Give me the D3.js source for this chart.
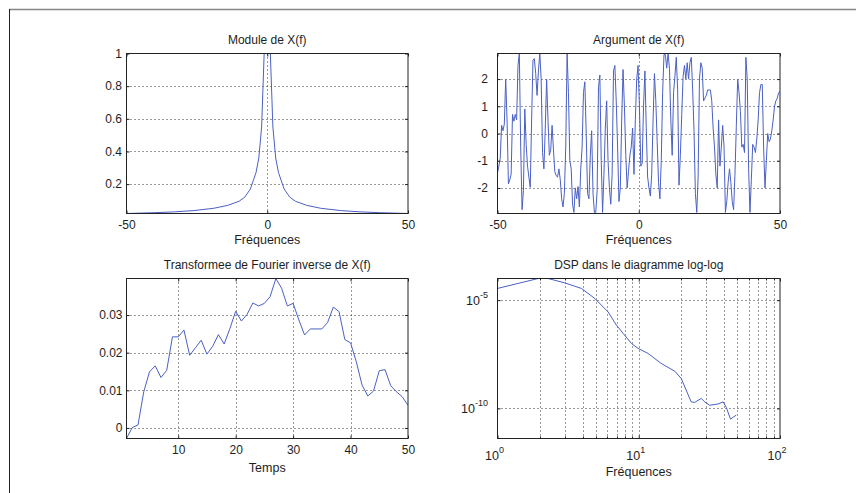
<!DOCTYPE html>
<html><head><meta charset="utf-8">
<script src="https://cdn.jsdelivr.net/npm/d3@7/dist/d3.min.js"></script>
<style>
body{margin:0;background:#fff;}
text{font-family:"Liberation Sans",Arial,sans-serif;fill:#1e1e1e;}
</style></head>
<body>
<svg id="c" width="856" height="493"></svg>
<script>
// ---------- DATA ----------
const titles = ["Module de X(f)", "Argument de X(f)", "Transformee de Fourier inverse de X(f)", "DSP dans le diagramme log-log"];
const xLabels = ["Fréquences", "Fréquences", "Temps", "Fréquences"];

// Module de X(f)
const modFreq  = [-50, -40, -33, -26, -19, -14, -10, -8, -6, -5, -4, -3, -2, -1, 0, 1, 2, 3, 4, 5, 6, 8, 10, 14, 19, 26, 33, 40, 50];
const modValue = [0.02, 0.025, 0.03, 0.038, 0.052, 0.07, 0.095, 0.12, 0.17, 0.22, 0.27, 0.36, 0.55, 1.05, 3.0, 1.05, 0.55, 0.36, 0.27, 0.22, 0.17, 0.12, 0.095, 0.07, 0.052, 0.038, 0.03, 0.025, 0.02];

// Argument de X(f) (evenly spaced over -50..50)
const argValue = [
 -1.45, -1.2, -0.9, 0.3, 0.1, 0.35, 2.0, 0.5, -1.85, -1.7, -1.5, 0.7, 0.45, 0.7, 0.5, 2.5, 2.95, -0.5, -2.8, -2.1,
 0.9, -0.4, -1.2, -1.6, -1.98, 0.5, 2.7, 2.75, 2.2, 1.4, 2.3, 2.95, 2.0, -0.7, -1.3, 0.2, 2.0, 0.5, -0.8, -0.6,
 0.3, -0.6, -1.4, -1.55, -1.6, -1.3, -1.7, -2.4, -2.7, -2.2, -0.5, 2.95, 1.5, -1.0, -1.3, -2.6, -2.9, -2.0, -2.4, -1.95,
 -2.7, -1.3, -0.5, 1.5, 1.9, 0.0, -2.2, -2.4, -0.8, 0.1, -2.2, -2.9, -2.9, -2.1, 1.7, 2.15, -1.0, -2.9, -1.5, 0.2,
 1.2, -1.0, -2.0, -2.6, -1.5, 2.3, 2.5, 1.2, -0.5, -2.5, -2.0, 0.5, 2.35, 1.0, -0.8, -2.0, -1.4, -0.8, -0.5,
 0.2, -1.5, 0.5, 2.0, 2.5, 1.0, -1.2, -1.1, 1.0, 2.3,
 0.2, -1.6, -2.0, -2.3, -1.5, 0.5, 2.2, 1.2, -0.3, -1.8,
 -2.4, -1.0, 1.5, 2.9, 2.9, 2.4, 2.95, 2.4, 0.5, -0.8,
 1.5, 2.1, 2.8, 1.6, -1.9, -0.8, 0.7, 2.1, 2.5, 2.0,
 2.6, 2.0, 2.6, 2.8, 1.6, 0.1, -2.2, -2.9, -1.6, 2.0,
 2.6, 2.4, 1.2, 1.3, 1.4, 1.6, 1.6, 1.6, 1.2, 0.2,
 -0.5, -1.5, -2.0, 0.5, -1.2, -0.5, 0.3, -0.5, -2.9, -2.5,
 -1.8, -1.3, -1.8, -2.5, -2.8, -1.5, 0.3, 2.0, 1.5, 0.8,
 -0.5, -0.4, -0.7, 2.8, 2.0, -1.3, -2.9, -1.7, -0.4, -0.5,
 -0.7, -0.2, 0.5, 1.5, 1.8, 1.8, -0.5, -2.0, -1.0, 0.0,
 -0.3, -0.2, 0.1, 0.5, 1.0, 1.2, 1.3, 1.5, 1.55
];

// Transformee de Fourier inverse (t = 1..50)
const invValue = [
 -0.0028, 0.0001, 0.0008, 0.0096, 0.0149, 0.0165, 0.0134, 0.0153, 0.0242, 0.0242,
 0.0260, 0.0193, 0.0213, 0.0233, 0.0196, 0.0217, 0.0248, 0.0223, 0.0264, 0.0310,
 0.0284, 0.0302, 0.0332, 0.0324, 0.0331, 0.0349, 0.0397, 0.0371, 0.0324, 0.0331,
 0.0287, 0.0247, 0.0263, 0.0263, 0.0263, 0.0280, 0.0321, 0.0309, 0.0235, 0.0226,
 0.0176, 0.0114, 0.0085, 0.0098, 0.0152, 0.0155, 0.0112, 0.0096, 0.0083, 0.0060
];

// DSP log-log
const dspFreq  = [1, 1.94, 2.28, 2.99, 3.93, 4.88, 6.06, 6.94, 7.76, 8.87, 9.9, 11.6, 14.4, 18, 20, 23.5, 24.9, 27.7, 29.3, 31.8, 36.4, 39.6, 41.7, 44.6, 49];
const dspValue = [3.47e-5, 1.0e-4, 1.0e-4, 6.3e-5, 3.47e-5, 1.2e-5, 2.9e-6, 7.1e-7, 2.9e-7, 1.0e-7, 5.9e-8, 3.5e-8, 1.2e-8, 5.2e-9, 2.4e-9, 2.0e-10, 1.9e-10, 2.9e-10, 2.0e-10, 1.4e-10, 1.6e-10, 2.0e-10, 1.1e-10, 3.2e-11, 4.9e-11];

// tick values / labels
const modXTicks = [-50, 0, 50], modXLabels = ["-50", "0", "50"];
const modYTicks = [0.2, 0.4, 0.6, 0.8, 1], modYLabels = ["0.2", "0.4", "0.6", "0.8", "1"];
const argYTicks = [-2, -1, 0, 1, 2], argYLabels = ["-2", "-1", "0", "1", "2"];
const invXTicks = [10, 20, 30, 40, 50], invXLabels = ["10", "20", "30", "40", "50"];
const invYTicks = [0, 0.01, 0.02, 0.03], invYLabels = ["0", "0.01", "0.02", "0.03"];
const dspXTicks = [1, 10, 100], dspXExp = ["0", "1", "2"];
const dspXMinor = [2,3,4,5,6,7,8,9,20,30,40,50,60,70,80,90];
const dspYTicks = [1e-10, 1e-5], dspYExp = ["-10", "-5"];

// ---------- DRAW ----------
const svg = d3.select("#c");
const LINE = "#4a60c4";

// outer frame
svg.append("line").attr("x1", 9).attr("x2", 856).attr("y1", 9.5).attr("y2", 9.5).attr("stroke", "#858585").attr("stroke-width", 1.5);
svg.append("line").attr("x1", 9.5).attr("x2", 9.5).attr("y1", 9).attr("y2", 493).attr("stroke", "#222").attr("stroke-width", 1);

const panels = [
  {x0:126.5, x1:408, y0:53.5, y1:213.5},
  {x0:497.5, x1:780, y0:53.5, y1:213.5},
  {x0:126.5, x1:408, y0:278.5, y1:438.5},
  {x0:497.5, x1:780, y0:278.5, y1:438.5}
];

function panel(i, xs, ys, opt) {
  const p = panels[i];
  const g = svg.append("g");
  const cid = "clip" + i;
  svg.append("clipPath").attr("id", cid).append("rect")
    .attr("x", p.x0).attr("y", p.y0).attr("width", p.x1 - p.x0).attr("height", p.y1 - p.y0);
  // grid
  const grid = g.append("g").attr("stroke", "#000").attr("stroke-width", 1).attr("stroke-dasharray", "1,3").attr("opacity", 0.8);
  (opt.gridX || []).forEach(v => {
    const x = Math.round(xs(v)) + 0.5;
    grid.append("line").attr("x1", x).attr("x2", x).attr("y1", p.y0).attr("y2", p.y1);
  });
  (opt.gridY || []).forEach(v => {
    const y = Math.round(ys(v)) + 0.5;
    grid.append("line").attr("x1", p.x0).attr("x2", p.x1).attr("y1", y).attr("y2", y);
  });
  // data line
  g.append("path").attr("clip-path", `url(#${cid})`)
    .datum(opt.data)
    .attr("fill", "none").attr("stroke", LINE).attr("stroke-width", 1)
    .attr("d", d3.line().x(d => xs(d[0])).y(d => ys(d[1])));
  // axes (ticks inward on all sides)
  const tk = 3;
  const ax = [
    d3.axisBottom(xs).tickValues(opt.xTicks).tickSize(-tk).tickPadding(7).tickFormat((d, k) => opt.xLabels ? opt.xLabels[k] : ""),
    d3.axisTop(xs).tickValues(opt.xTicks).tickSize(-tk).tickFormat(""),
    d3.axisLeft(ys).tickValues(opt.yTicks).tickSize(-tk).tickPadding(opt.yPad).tickFormat((d, k) => opt.yLabels ? opt.yLabels[k] : ""),
    d3.axisRight(ys).tickValues(opt.yTicks).tickSize(-tk).tickFormat("")
  ];
  const pos = [`translate(0,${p.y1})`, `translate(0,${p.y0})`, `translate(${p.x0},0)`, `translate(${p.x1},0)`];
  const axG = ax.map((a, k) => {
    const gg = g.append("g").attr("transform", pos[k]).call(a);
    gg.select(".domain").remove();
    gg.selectAll("line").attr("stroke", "#222");
    gg.selectAll("text").attr("font-size", 12).attr("fill", "#1e1e1e").style("font-family", "'Liberation Sans',Arial,sans-serif");
    return gg;
  });
  if (opt.minorX) {
    [p.y1, p.y0].forEach((yy, k) => {
      opt.minorX.forEach(v => {
        const x = Math.round(xs(v)) + 0.5;
        g.append("line").attr("x1", x).attr("x2", x)
          .attr("y1", yy).attr("y2", k === 0 ? yy - 2 : yy + 2).attr("stroke", "#222");
      });
    });
  }
  // box
  g.append("rect").attr("x", p.x0).attr("y", p.y0).attr("width", p.x1 - p.x0).attr("height", p.y1 - p.y0)
    .attr("fill", "none").attr("stroke", "#222").attr("stroke-width", 1);
  // title & x label
  const cx = (p.x0 + p.x1) / 2;
  svg.append("text").attr("x", cx).attr("y", p.y0 - 9.5).attr("text-anchor", "middle").attr("font-size", 12).text(titles[i]);
  svg.append("text").attr("x", cx).attr("y", p.y1 + (opt.xlabOff || 30.5)).attr("text-anchor", "middle").attr("font-size", 12.5).text(xLabels[i]);
  return {g, axG};
}

// Panel 1 : module
{
  const p = panels[0];
  const xs = d3.scaleLinear().domain([-50, 50]).range([p.x0, p.x1]);
  const ys = d3.scaleLinear().domain([0.02, 1]).range([p.y1, p.y0]);
  panel(0, xs, ys, {data: modFreq.map((f, k) => [f, modValue[k]]), xTicks: modXTicks, xLabels: modXLabels,
    yTicks: modYTicks, yLabels: modYLabels, yPad: 4.5, gridX: [0], gridY: [0.2, 0.4, 0.6, 0.8]});
}
// Panel 2 : argument
{
  const p = panels[1];
  const xs = d3.scaleLinear().domain([-50, 50]).range([p.x0, p.x1]);
  const ys = d3.scaleLinear().domain([-2.94, 2.94]).range([p.y1, p.y0]);
  const n = argValue.length;
  const argFreq = argValue.map((v, k) => -50 + 100 * k / (n - 1));
  panel(1, xs, ys, {data: argFreq.map((f, k) => [f, argValue[k]]), xTicks: modXTicks, xLabels: modXLabels,
    yTicks: argYTicks, yLabels: argYLabels, yPad: 9.5, gridX: [0], gridY: [-2, -1, 0, 1, 2]});
}
// Panel 3 : inverse FT
{
  const p = panels[2];
  const xs = d3.scaleLinear().domain([1, 50]).range([p.x0, p.x1]);
  const ys = d3.scaleLinear().domain([-0.0028, 0.0397]).range([p.y1, p.y0]);
  panel(2, xs, ys, {data: invValue.map((v, k) => [k + 1, v]), xTicks: invXTicks, xLabels: invXLabels,
    yTicks: invYTicks, yLabels: invYLabels, yPad: 4, gridX: [10, 20, 30, 40], gridY: [0, 0.01, 0.02, 0.03], xlabOff: 33.5});
}
// Panel 4 : DSP log-log
{
  const p = panels[3];
  const xs = d3.scaleLog().domain([1, 100]).range([p.x0, p.x1]);
  const ys = d3.scaleLog().domain([Math.pow(10, -11.39), Math.pow(10, -4.0)]).range([p.y1, p.y0]);
  const r = panel(3, xs, ys, {data: dspFreq.map((f, k) => [f, dspValue[k]]), xTicks: dspXTicks, xLabels: null,
    yTicks: dspYTicks, yLabels: null, yPad: 9.5, gridX: dspXMinor.concat([10]), gridY: [1e-10, 1e-5], minorX: dspXMinor, xlabOff: 37.5});
  // power labels
  dspXTicks.forEach((v, k) => {
    const t = svg.append("text").attr("x", xs(v) - 3).attr("y", p.y1 + 21.5).attr("text-anchor", "middle").attr("font-size", 12.5);
    t.append("tspan").text("10");
    t.append("tspan").attr("dy", -7).attr("font-size", 9).text(dspXExp[k]);
  });
  dspYTicks.forEach((v, k) => {
    const t = svg.append("text").attr("x", p.x0 - 9.5).attr("y", ys(v) + 4.5).attr("text-anchor", "end").attr("font-size", 12.5);
    t.append("tspan").text("10");
    t.append("tspan").attr("dy", -7).attr("font-size", 9).text(dspYExp[k]);
  });
}
</script>
</body></html>
